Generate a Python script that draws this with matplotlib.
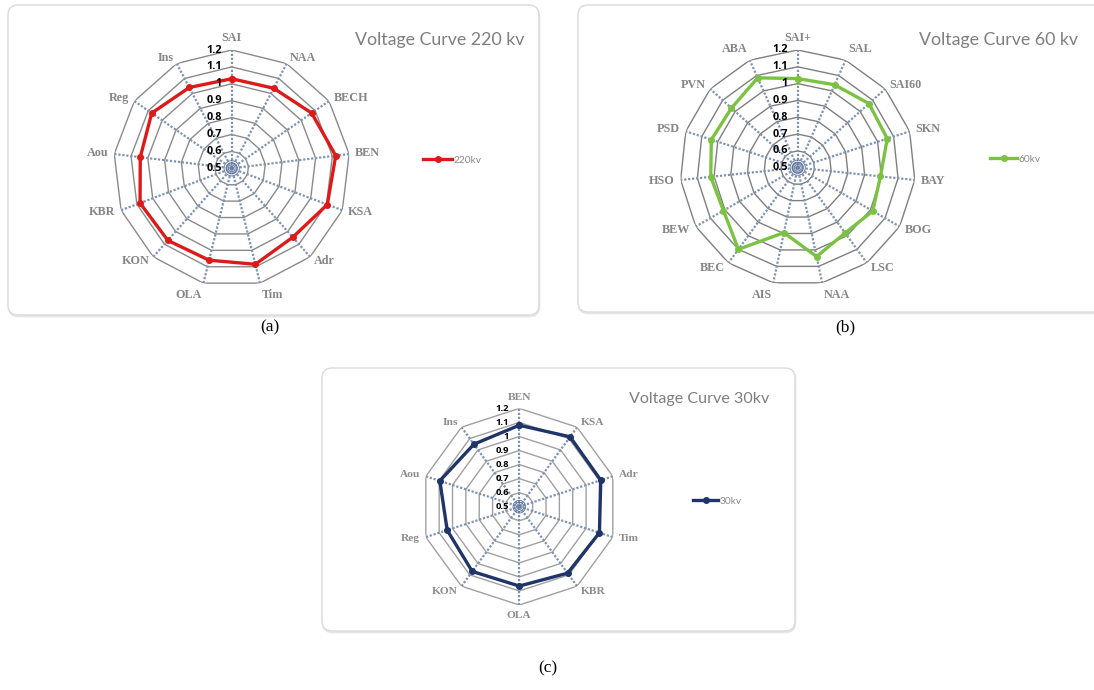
import numpy as np
import matplotlib
matplotlib.use("Agg")
import matplotlib.pyplot as plt
from matplotlib.patches import FancyBboxPatch

# ---------------- data ----------------
cats_220 = ['SAI', 'NAA', 'BECH', 'BEN', 'KSA', 'Adr', 'Tim', 'OLA', 'KON', 'KBR', 'Aou', 'Reg', 'Ins']
vals_220 = [1.03, 1.035, 1.075, 1.12, 1.105, 1.045, 1.085, 1.06, 1.07, 1.08, 1.045, 1.075, 1.04]

cats_60 = ['SAI+', 'SAL', 'SAI60', 'SKN', 'BAY', 'BOG', 'LSC', 'NAA', 'AIS', 'BEC', 'BEW', 'HSO', 'PSD', 'PVN', 'ABA']
vals_60 = [1.03, 1.04, 1.07, 1.06, 0.995, 1.015, 0.98, 1.04, 0.895, 1.10, 1.01, 1.02, 1.04, 1.03, 1.085]

cats_30 = ['BEN', 'KSA', 'Adr', 'Tim', 'KBR', 'OLA', 'KON', 'Reg', 'Aou', 'Ins']
vals_30 = [1.08, 1.115, 1.11, 1.10, 1.085, 1.065, 1.07, 1.04, 1.095, 1.05]

r_ticks = [0.5, 0.6, 0.7, 0.8, 0.9, 1.0, 1.1, 1.2]
r_tick_labels = ['0.5', '0.6', '0.7', '0.8', '0.9', '1', '1.1', '1.2']

titles = ['Voltage Curve 220 kv', 'Voltage Curve 60 kv', 'Voltage Curve 30kv']
series_names = ['220kv', '60kv', '30kv']
captions = ['(a)', '(b)', '(c)']

W, H = 1094, 690
fig = plt.figure(figsize=(W / 100, H / 100), dpi=100)
fig.patch.set_facecolor('white')

# background axes in pixel coordinates for boxes and captions
bg = fig.add_axes([0, 0, 1, 1], zorder=0)
bg.set_xlim(0, W)
bg.set_ylim(H, 0)
bg.axis('off')


def card(x0, y0, x1, y1):
    sh = FancyBboxPatch((x0 + 0.5, y0 + 1.5), x1 - x0, y1 - y0,
                        boxstyle="round,pad=0,rounding_size=10",
                        fc='#efefef', ec='#e6e6e6', lw=1.2, zorder=1)
    bg.add_patch(sh)
    b = FancyBboxPatch((x0, y0), x1 - x0, y1 - y0,
                       boxstyle="round,pad=0,rounding_size=10",
                       fc='white', ec='#dadada', lw=1.0, zorder=2)
    bg.add_patch(b)


card(8, 5, 539, 315)
card(578, 5, 1110, 312)
card(322, 368, 795, 631)

for txt, (cx, cy) in zip(captions, [(270, 327), (845, 327), (548, 668)]):
    bg.text(cx, cy, txt, ha='center', va='center', fontsize=12.5,
            family='Liberation Serif', color='black')


def px_axes(cx, cy, R):
    return [(cx - R) / W, 1 - (cy + R) / H, 2 * R / W, 2 * R / H]


def radar(rect, cats, vals, color, gridcol, name, leg_xy, hl,
          tick_fs, cat_fs, cat_col):
    ax = fig.add_axes(rect, projection='polar', zorder=3)
    ax.patch.set_alpha(0)
    ax.set_theta_zero_location('N')
    ax.set_theta_direction(-1)
    ax.set_ylim(0.5, 1.2)
    ax.grid(False)
    ax.spines['polar'].set_visible(False)
    ax.set_xticks([])
    ax.set_yticks([])
    n = len(cats)
    th = np.linspace(0, 2 * np.pi, n, endpoint=False)
    thc = np.r_[th, th[0]]
    # polygon grid
    for lev in r_ticks[1:]:
        ax.plot(thc, [lev] * (n + 1), color=gridcol, lw=1.0, zorder=2)
    # dotted spokes
    for t in th:
        ax.plot([t, t], [0.5, 1.2], color='#7f93b2', lw=1.6,
                ls=(0, (1, 0.8)), zorder=2)
    # tiny rings near the centre
    tt = np.linspace(0, 2 * np.pi, 120)
    for rr in (0.508, 0.52, 0.532, 0.545):
        ax.plot(tt, [rr] * len(tt), color='#5d739a', lw=0.6, zorder=2)
    # series
    line, = ax.plot(thc, np.r_[vals, vals[0]], color=color, lw=2.4,
                    marker='o', ms=4, zorder=5, label=name)
    # radial tick labels
    for rv, lab in zip(r_ticks, r_tick_labels):
        ax.annotate(lab, xy=(0, rv), xytext=(-10, 0), textcoords='offset pixels',
                    ha='right', va='center', fontsize=tick_fs, fontweight='bold',
                    family='Open Sans', color='black', zorder=6)
    # category labels
    pad = 6
    for t, c in zip(th, cats):
        s, co = np.sin(t), np.cos(t)
        ha = 'center' if abs(s) < 0.15 else ('left' if s > 0 else 'right')
        va = 'center'
        if co > 0.9:
            va = 'bottom'
        elif co < -0.9:
            va = 'top'
        ax.annotate(c, xy=(t, 1.2), xytext=(s * pad, co * pad),
                    textcoords='offset pixels', ha=ha, va=va,
                    fontsize=cat_fs, fontweight='bold', family='Liberation Serif',
                    color=cat_col, zorder=6)
    leg = ax.legend(handles=[line], loc='center left',
                    bbox_to_anchor=(leg_xy[0] / W, 1 - leg_xy[1] / H),
                    bbox_transform=fig.transFigure, frameon=False,
                    fontsize=7.3, handlelength=hl, handletextpad=0.1,
                    borderpad=0, borderaxespad=0)
    for tx in leg.get_texts():
        tx.set_color('#8a8a8a')
        tx.set_family('Lato')
    return ax


radar(px_axes(231.7, 168.3, 118.3), cats_220, vals_220, '#dc1a1a', '#8a8a8a',
      series_names[0], (423, 160), 2.9, 7.8, 8.7, '#858585')
radar(px_axes(797.7, 167.7, 117.7), cats_60, vals_60, '#7cc242', '#7f7f7f',
      series_names[1], (990, 159), 2.7, 7.8, 8.7, '#858585')
radar(px_axes(519.3, 506.7, 98.3), cats_30, vals_30, '#1f3467', '#a0a0a0',
      series_names[2], (693, 501), 2.5, 6.8, 8.2, '#8c8c8c')

# titles
for txt, (x, y), fs in zip(titles, [(355, 40), (919, 40), (629, 399)],
                           [12.8, 12.8, 11.6]):
    bg.text(x, y, txt, ha='left', va='center', fontsize=fs, family='Lato',
            color='#7f7f7f', zorder=4)

fig.savefig('out.png', dpi=100, facecolor='white')
